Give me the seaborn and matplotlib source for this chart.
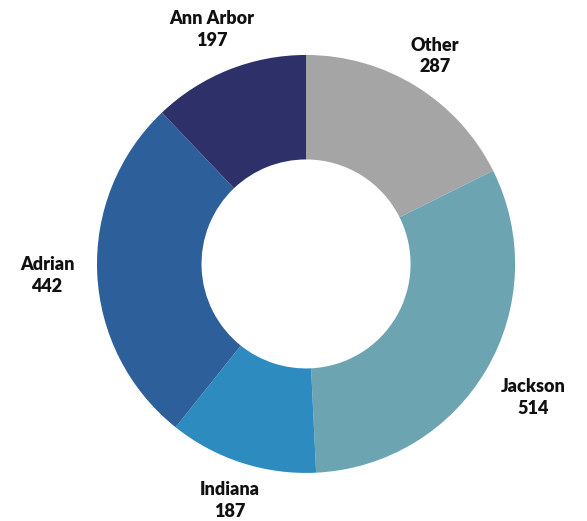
import numpy as np
import matplotlib
matplotlib.use("Agg")
import matplotlib.pyplot as plt
import seaborn as sns

regions = ["Other", "Jackson", "Indiana", "Adrian", "Ann Arbor"]
counts = [287, 514, 187, 442, 197]
colors = ["#A5A5A5", "#6DA4B1", "#2E8BC0", "#2D5F9B", "#2E3169"]


def main():
    sns.set_style("white")
    plt.rcParams["font.family"] = ["Lato", "DejaVu Sans"]

    fig = plt.figure(figsize=(5.87, 5.21), dpi=100)
    ax = fig.add_axes([0, 0, 1, 1])

    wedges, _ = ax.pie(
        counts,
        colors=colors,
        startangle=90,
        counterclock=False,
        radius=1.0,
        wedgeprops=dict(width=0.5, edgecolor="none"),
    )

    # labels centred outside each wedge, distance tweaked a bit per side
    label_r = [1.17, 1.26, 1.19, 1.24, 1.21]
    for w, name, n, r in zip(wedges, regions, counts, label_r):
        mid = np.deg2rad((w.theta1 + w.theta2) / 2)
        ax.text(r * np.cos(mid), r * np.sin(mid), f"{name}\n{n}",
                ha="center", va="center", fontsize=13, fontweight="heavy",
                color="#111111", linespacing=1.35)

    ax.set_xlim(-1.464, 1.344)
    ax.set_ylim(-1.230, 1.263)
    ax.set_aspect("auto")
    ax.axis("off")

    fig.savefig("out.png", dpi=100)
    plt.close(fig)


if __name__ == "__main__":
    main()
